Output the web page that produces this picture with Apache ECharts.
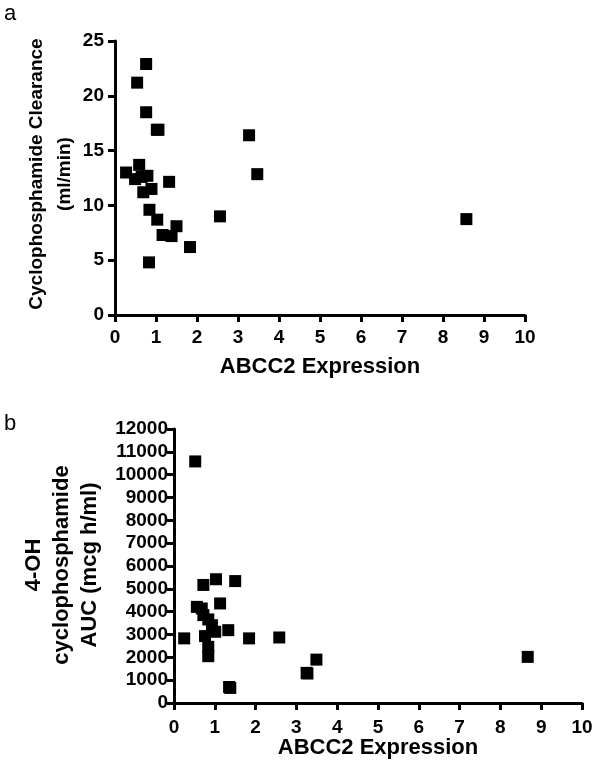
<!DOCTYPE html>
<html><head><meta charset="utf-8">
<script src="https://cdn.jsdelivr.net/npm/echarts@6/dist/echarts.min.js"></script>
<style>html,body{margin:0;padding:0;background:#fff}#c{width:600px;height:775px}</style>
</head><body><div id="c"></div>
<script>
// Panel a: ABCC2 expression vs cyclophosphamide clearance (ml/min)
const clearanceX = [0.27,0.54,0.76,0.76,1.02,1.06,0.59,0.49,0.65,0.79,0.69,0.89,1.32,0.84,1.03,1.16,1.38,1.50,1.83,0.83,2.56,3.27,3.47,8.57];
const clearanceY = [13.0,21.2,22.9,18.5,16.9,16.9,13.7,12.4,12.6,12.7,11.2,11.5,12.15,9.6,8.7,7.3,7.2,8.1,6.2,4.8,9.0,16.4,12.85,8.75];
// Panel b: ABCC2 expression vs 4-OH cyclophosphamide AUC (mcg h/ml)
const aucX = [0.52,0.25,0.72,1.03,1.50,0.56,0.68,0.72,0.84,0.93,1.01,1.13,0.76,1.33,1.84,0.84,0.84,1.38,1.35,2.58,3.27,3.25,3.49,8.67];
const aucY = [10580,2830,5170,5420,5340,4210,4140,3850,3660,3410,3120,4360,2930,3190,2830,2460,2050,660,700,2870,1290,1320,1900,2020];

const xTicks = {min:0, max:10, interval:1};
const yTicksA = {min:0, max:25, interval:5};
const yTicksB = {min:0, max:12000, interval:1000};

const FONT = "'Liberation Sans', Arial, sans-serif";
const chart = echarts.init(document.getElementById('c'));
const axisCommon = {
  axisLine:{show:true, onZero:false, lineStyle:{color:'#000', width:3}},
  axisTick:{show:true, length:7, lineStyle:{color:'#000', width:3}},
  splitLine:{show:false},
};
const plain = v => String(v);
function pairs(xs, ys){ return xs.map((x,i)=>[x, ys[i]]); }
chart.setOption({
  animation:false,
  backgroundColor:'#fff',
  grid:[
    {left:115, right:75, top:41, bottom:460},
    {left:174, right:18, top:429, bottom:72}
  ],
  xAxis:[
    Object.assign({gridIndex:0, type:'value', min:xTicks.min, max:xTicks.max, interval:xTicks.interval,
      axisLabel:{color:'#000', fontSize:19, fontWeight:'bold', fontFamily:FONT, margin:13, formatter:plain}}, axisCommon),
    Object.assign({gridIndex:1, type:'value', min:xTicks.min, max:xTicks.max, interval:xTicks.interval,
      axisLabel:{color:'#000', fontSize:19, fontWeight:'bold', fontFamily:FONT, margin:15, formatter:plain}}, axisCommon)
  ],
  yAxis:[
    Object.assign({gridIndex:0, type:'value', min:yTicksA.min, max:yTicksA.max, interval:yTicksA.interval,
      axisLabel:{color:'#000', fontSize:19, fontWeight:'bold', fontFamily:FONT, margin:11, formatter:plain}}, axisCommon),
    Object.assign({gridIndex:1, type:'value', min:yTicksB.min, max:yTicksB.max, interval:yTicksB.interval,
      axisLabel:{color:'#000', fontSize:19, fontWeight:'bold', fontFamily:FONT, margin:6, formatter:plain}}, axisCommon)
  ],
  series:[
    {type:'scatter', xAxisIndex:0, yAxisIndex:0, symbol:'rect', symbolSize:12,
     itemStyle:{color:'#000', opacity:1}, data:pairs(clearanceX, clearanceY)},
    {type:'scatter', xAxisIndex:1, yAxisIndex:1, symbol:'rect', symbolSize:12,
     itemStyle:{color:'#000', opacity:1}, data:pairs(aucX, aucY)}
  ],
  graphic:[
    {type:'text', x:4, y:3, style:{text:'a', fill:'#000', font:'22px '+FONT}},
    {type:'text', x:4, y:413, style:{text:'b', fill:'#000', font:'22px '+FONT}},
    {type:'text', x:320, y:367, style:{text:'ABCC2 Expression', fill:'#000', font:'bold 22px '+FONT, textAlign:'center', textVerticalAlign:'middle'}},
    {type:'text', x:378, y:748, style:{text:'ABCC2 Expression', fill:'#000', font:'bold 22px '+FONT, textAlign:'center', textVerticalAlign:'middle'}},
    {type:'text', x:51, y:174, rotation:Math.PI/2, style:{text:'Cyclophosphamide Clearance\n(ml/min)', fill:'#000', font:'bold 19px '+FONT, textAlign:'center', textVerticalAlign:'middle', lineHeight:28}},
    {type:'text', x:62, y:565, rotation:Math.PI/2, style:{text:'4-OH\ncyclophosphamide\nAUC (mcg h/ml)', fill:'#000', font:'bold 22px '+FONT, textAlign:'center', textVerticalAlign:'middle', lineHeight:28}}
  ]
});
</script></body></html>
